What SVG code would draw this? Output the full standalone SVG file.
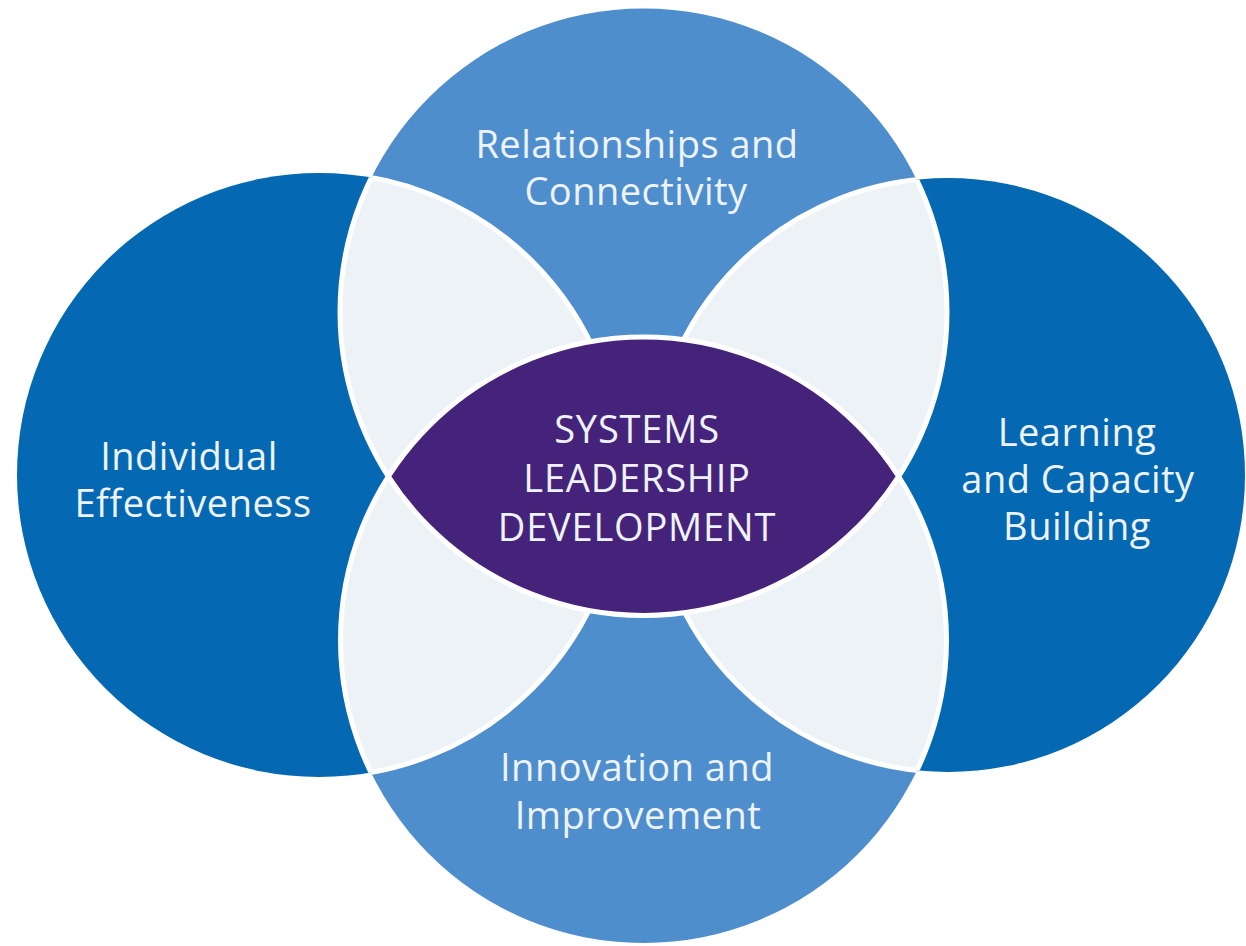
<svg xmlns="http://www.w3.org/2000/svg" width="1246" height="946" viewBox="0 0 1246 946">
<style>
.dark{fill:#0468b2}
.light{fill:#4e8ecd}
.lens{fill:#ecf2f6}
.eye{fill:#46237a}
.edge{fill:none;stroke:#ffffff;stroke-width:5}
.lbl{font-family:"Open Sans","Noto Sans","Liberation Sans",sans-serif;fill:#eef3f9;text-anchor:middle;font-size:38px;letter-spacing:0.5px}
.ctr{font-size:38px;letter-spacing:0.8px}
</style>
<defs>
<clipPath id="inL"><circle cx="319" cy="475" r="302"/></clipPath>
<clipPath id="inR"><circle cx="948" cy="475" r="297"/></clipPath>
<clipPath id="inT"><circle cx="643.5" cy="312" r="303.5"/></clipPath>
<clipPath id="inB"><circle cx="643.5" cy="640" r="303"/></clipPath>
</defs>
<rect width="1246" height="946" fill="#ffffff"/>
<g id="node-left">
<circle class="dark" cx="319" cy="475" r="302"/>
<text class="lbl" x="189" y="470">Individual</text>
<text class="lbl" x="193" y="517">Effectiveness</text>
</g>
<g id="node-right">
<circle class="dark" cx="948" cy="475" r="297"/>
<text class="lbl" x="1077" y="446">Learning</text>
<text class="lbl" x="1078" y="493">and Capacity</text>
<text class="lbl" x="1077" y="540">Building</text>
</g>
<g id="node-top">
<circle class="light" cx="643.5" cy="312" r="303.5"/>
<text class="lbl" x="637" y="158">Relationships and</text>
<text class="lbl" x="636" y="205">Connectivity</text>
</g>
<g id="node-bottom">
<circle class="light" cx="643.5" cy="640" r="303"/>
<text class="lbl" x="637" y="781">Innovation and</text>
<text class="lbl" x="638" y="829">Improvement</text>
</g>
<g id="overlaps">
<circle class="lens" cx="319" cy="475" r="302" clip-path="url(#inT)"/>
<circle class="lens" cx="319" cy="475" r="302" clip-path="url(#inB)"/>
<circle class="lens" cx="948" cy="475" r="297" clip-path="url(#inT)"/>
<circle class="lens" cx="948" cy="475" r="297" clip-path="url(#inB)"/>
<circle class="edge" cx="319" cy="475" r="302" clip-path="url(#inT)"/>
<circle class="edge" cx="319" cy="475" r="302" clip-path="url(#inB)"/>
<circle class="edge" cx="948" cy="475" r="297" clip-path="url(#inT)"/>
<circle class="edge" cx="948" cy="475" r="297" clip-path="url(#inB)"/>
<circle class="edge" cx="643.5" cy="312" r="303.5" clip-path="url(#inL)"/>
<circle class="edge" cx="643.5" cy="312" r="303.5" clip-path="url(#inR)"/>
<circle class="edge" cx="643.5" cy="640" r="303" clip-path="url(#inL)"/>
<circle class="edge" cx="643.5" cy="640" r="303" clip-path="url(#inR)"/>
</g>
<g id="node-center">
<circle class="eye" cx="643.5" cy="312" r="303.5" clip-path="url(#inB)"/>
<circle class="edge" cx="643.5" cy="312" r="303.5" clip-path="url(#inB)"/>
<circle class="edge" cx="643.5" cy="640" r="303" clip-path="url(#inT)"/>
<text class="lbl ctr" x="637" y="443">SYSTEMS</text>
<text class="lbl ctr" x="637" y="492">LEADERSHIP</text>
<text class="lbl ctr" x="637" y="541">DEVELOPMENT</text>
</g>
</svg>
